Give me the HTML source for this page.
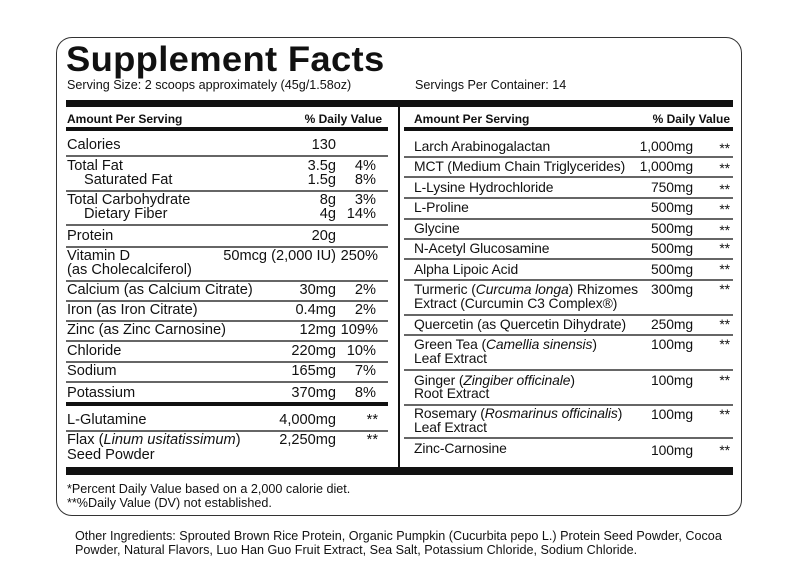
<!DOCTYPE html>
<html><head><meta charset="utf-8"><style>
body{margin:0;width:800px;height:587px;background:#fff;position:relative;overflow:hidden;font-family:"Liberation Sans",Arial,sans-serif;color:#111}
.box{position:absolute;left:56px;top:37px;width:684px;height:477px;border:1.5px solid #333;border-radius:16px}
.t{position:absolute;font-size:14.6px;line-height:16px;white-space:nowrap}
.R .t{font-size:13.9px;letter-spacing:-0.1px}
.r{text-align:right}
.h{font-weight:bold;font-size:12px}
.s{font-size:12.6px}
.ln{position:absolute;height:1.5px;background:#666}
.k{position:absolute;background:#111}
i{font-style:italic}
</style></head><body>
<div class="box"></div>
<div class="t" style="left:66px;top:40px;font-size:35px;line-height:40px;font-weight:900;letter-spacing:0.3px;transform:scaleX(1.04);transform-origin:left">Supplement Facts</div>
<div class="t s" style="left:67px;top:77px">Serving Size: 2 scoops approximately (45g/1.58oz)</div>
<div class="t s" style="left:415px;top:77px">Servings Per Container: 14</div>
<div class="k" style="left:66px;top:100px;width:667px;height:7px"></div>
<div class="k" style="left:398px;top:107px;width:1.5px;height:361px"></div>
<div class="t h" style="left:67px;top:111px">Amount Per Serving</div>
<div class="t h r" style="left:250px;width:132px;top:111px">% Daily Value</div>
<div class="t h" style="left:414px;top:111px">Amount Per Serving</div>
<div class="t h r" style="left:600px;width:130px;top:111px">% Daily Value</div>
<div class="k" style="left:66px;top:127px;width:322px;height:4px"></div>
<div class="k" style="left:404px;top:127px;width:329px;height:4px"></div>

<!-- left column -->
<div class="t" style="left:67px;top:137px">Calories</div><div class="t r" style="left:250px;width:86px;top:137px">130</div>
<div class="ln" style="left:66px;top:155px;width:322px"></div>
<div class="t" style="left:67px;top:158px">Total Fat</div><div class="t r" style="left:250px;width:86px;top:158px">3.5g</div><div class="t r" style="left:336px;width:40px;top:158px">4%</div>
<div class="t" style="left:84px;top:172px">Saturated Fat</div><div class="t r" style="left:250px;width:86px;top:172px">1.5g</div><div class="t r" style="left:336px;width:40px;top:172px">8%</div>
<div class="ln" style="left:66px;top:190px;width:322px"></div>
<div class="t" style="left:67px;top:192px">Total Carbohydrate</div><div class="t r" style="left:250px;width:86px;top:192px">8g</div><div class="t r" style="left:336px;width:40px;top:192px">3%</div>
<div class="t" style="left:84px;top:206px">Dietary Fiber</div><div class="t r" style="left:250px;width:86px;top:206px">4g</div><div class="t r" style="left:336px;width:40px;top:206px">14%</div>
<div class="ln" style="left:66px;top:224px;width:322px"></div>
<div class="t" style="left:67px;top:228px">Protein</div><div class="t r" style="left:250px;width:86px;top:228px">20g</div>
<div class="ln" style="left:66px;top:246px;width:322px"></div>
<div class="t" style="left:67px;top:248px">Vitamin D</div><div class="t r" style="left:190px;width:146px;top:248px">50mcg (2,000 IU)</div><div class="t r" style="left:336px;width:42px;top:248px">250%</div>
<div class="t" style="left:67px;top:262px">(as Cholecalciferol)</div>
<div class="ln" style="left:66px;top:280px;width:322px"></div>
<div class="t" style="left:67px;top:282px">Calcium (as Calcium Citrate)</div><div class="t r" style="left:250px;width:86px;top:282px">30mg</div><div class="t r" style="left:336px;width:40px;top:282px">2%</div>
<div class="ln" style="left:66px;top:300px;width:322px"></div>
<div class="t" style="left:67px;top:302px">Iron (as Iron Citrate)</div><div class="t r" style="left:250px;width:86px;top:302px">0.4mg</div><div class="t r" style="left:336px;width:40px;top:302px">2%</div>
<div class="ln" style="left:66px;top:320px;width:322px"></div>
<div class="t" style="left:67px;top:322px">Zinc (as Zinc Carnosine)</div><div class="t r" style="left:250px;width:86px;top:322px">12mg</div><div class="t r" style="left:336px;width:42px;top:322px">109%</div>
<div class="ln" style="left:66px;top:340px;width:322px"></div>
<div class="t" style="left:67px;top:343px">Chloride</div><div class="t r" style="left:250px;width:86px;top:343px">220mg</div><div class="t r" style="left:336px;width:40px;top:343px">10%</div>
<div class="ln" style="left:66px;top:361px;width:322px"></div>
<div class="t" style="left:67px;top:363px">Sodium</div><div class="t r" style="left:250px;width:86px;top:363px">165mg</div><div class="t r" style="left:336px;width:40px;top:363px">7%</div>
<div class="ln" style="left:66px;top:381px;width:322px"></div>
<div class="t" style="left:67px;top:385px">Potassium</div><div class="t r" style="left:250px;width:86px;top:385px">370mg</div><div class="t r" style="left:336px;width:40px;top:385px">8%</div>
<div class="k" style="left:66px;top:402px;width:322px;height:4px"></div>
<div class="t" style="left:67px;top:412px">L-Glutamine</div><div class="t r" style="left:250px;width:86px;top:412px">4,000mg</div><div class="t r" style="left:340px;width:38px;top:412px">**</div>
<div class="ln" style="left:66px;top:430px;width:322px"></div>
<div class="t" style="left:67px;top:432px">Flax (<i>Linum usitatissimum</i>)</div><div class="t r" style="left:250px;width:86px;top:432px">2,250mg</div><div class="t r" style="left:340px;width:38px;top:432px">**</div>
<div class="t" style="left:67px;top:447px">Seed Powder</div>

<!-- right column -->
<div class="R">
<div class="t" style="left:414px;top:138px">Larch Arabinogalactan</div><div class="t r" style="left:600px;width:93px;top:138px">1,000mg</div><div class="t r" style="left:700px;width:30px;top:140px">**</div>
<div class="ln" style="left:404px;top:156px;width:329px"></div>
<div class="t" style="left:414px;top:158px">MCT (Medium Chain Triglycerides)</div><div class="t r" style="left:600px;width:93px;top:158px">1,000mg</div><div class="t r" style="left:700px;width:30px;top:160px">**</div>
<div class="ln" style="left:404px;top:176px;width:329px"></div>
<div class="t" style="left:414px;top:179px">L-Lysine Hydrochloride</div><div class="t r" style="left:600px;width:93px;top:179px">750mg</div><div class="t r" style="left:700px;width:30px;top:181px">**</div>
<div class="ln" style="left:404px;top:197px;width:329px"></div>
<div class="t" style="left:414px;top:199px">L-Proline</div><div class="t r" style="left:600px;width:93px;top:199px">500mg</div><div class="t r" style="left:700px;width:30px;top:201px">**</div>
<div class="ln" style="left:404px;top:218px;width:329px"></div>
<div class="t" style="left:414px;top:220px">Glycine</div><div class="t r" style="left:600px;width:93px;top:220px">500mg</div><div class="t r" style="left:700px;width:30px;top:222px">**</div>
<div class="ln" style="left:404px;top:238px;width:329px"></div>
<div class="t" style="left:414px;top:240px">N-Acetyl Glucosamine</div><div class="t r" style="left:600px;width:93px;top:240px">500mg</div><div class="t r" style="left:700px;width:30px;top:240px">**</div>
<div class="ln" style="left:404px;top:258px;width:329px"></div>
<div class="t" style="left:414px;top:261px">Alpha Lipoic Acid</div><div class="t r" style="left:600px;width:93px;top:261px">500mg</div><div class="t r" style="left:700px;width:30px;top:261px">**</div>
<div class="ln" style="left:404px;top:279px;width:329px"></div>
<div class="t" style="left:414px;top:281px">Turmeric (<i>Curcuma longa</i>) Rhizomes</div><div class="t r" style="left:600px;width:93px;top:281px">300mg</div><div class="t r" style="left:700px;width:30px;top:281px">**</div>
<div class="t" style="left:414px;top:295px">Extract (Curcumin C3 Complex®)</div>
<div class="ln" style="left:404px;top:314px;width:329px"></div>
<div class="t" style="left:414px;top:316px">Quercetin (as Quercetin Dihydrate)</div><div class="t r" style="left:600px;width:93px;top:316px">250mg</div><div class="t r" style="left:700px;width:30px;top:316px">**</div>
<div class="ln" style="left:404px;top:334px;width:329px"></div>
<div class="t" style="left:414px;top:336px">Green Tea (<i>Camellia sinensis</i>)</div><div class="t r" style="left:600px;width:93px;top:336px">100mg</div><div class="t r" style="left:700px;width:30px;top:336px">**</div>
<div class="t" style="left:414px;top:350px">Leaf Extract</div>
<div class="ln" style="left:404px;top:369px;width:329px"></div>
<div class="t" style="left:414px;top:372px">Ginger (<i>Zingiber officinale</i>)</div><div class="t r" style="left:600px;width:93px;top:372px">100mg</div><div class="t r" style="left:700px;width:30px;top:372px">**</div>
<div class="t" style="left:414px;top:385px">Root Extract</div>
<div class="ln" style="left:404px;top:404px;width:329px"></div>
<div class="t" style="left:414px;top:405px">Rosemary (<i>Rosmarinus officinalis</i>)</div><div class="t r" style="left:600px;width:93px;top:406px">100mg</div><div class="t r" style="left:700px;width:30px;top:406px">**</div>
<div class="t" style="left:414px;top:419px">Leaf Extract</div>
<div class="ln" style="left:404px;top:437px;width:329px"></div>
<div class="t" style="left:414px;top:440px">Zinc-Carnosine</div><div class="t r" style="left:600px;width:93px;top:442px">100mg</div><div class="t r" style="left:700px;width:30px;top:442px">**</div>
</div>

<div class="k" style="left:66px;top:467px;width:667px;height:8px"></div>
<div class="t s" style="left:67px;top:481px">*Percent Daily Value based on a 2,000 calorie diet.</div>
<div class="t s" style="left:67px;top:495px">**%Daily Value (DV) not established.</div>
<div class="t s" style="left:75px;top:528px">Other Ingredients: Sprouted Brown Rice Protein, Organic Pumpkin (Cucurbita pepo L.) Protein Seed Powder, Cocoa</div>
<div class="t s" style="left:75px;top:542px">Powder, Natural Flavors, Luo Han Guo Fruit Extract, Sea Salt, Potassium Chloride, Sodium Chloride.</div>
</body></html>
